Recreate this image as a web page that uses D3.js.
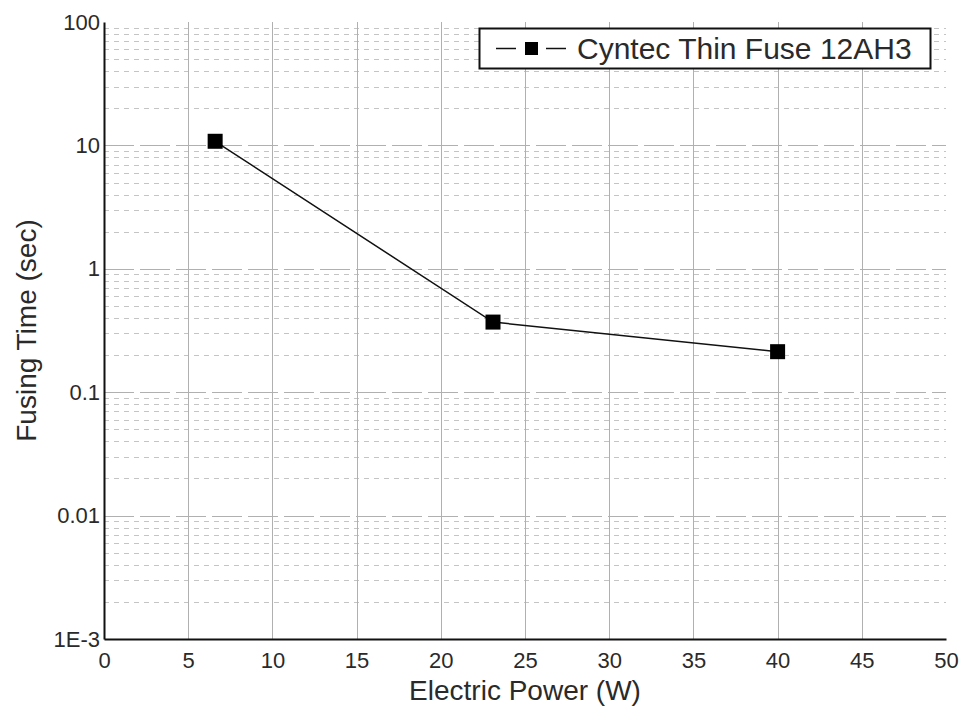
<!DOCTYPE html>
<html>
<head>
<meta charset="utf-8">
<script src="https://cdn.jsdelivr.net/npm/d3@7"></script>
<style>
  body { margin: 0; background: #fff; }
  text { font-family: "Liberation Sans", Arial, sans-serif; fill: #2a2a2a; }
</style>
</head>
<body>
<div id="chart"></div>
<script>
// data
var power = [6.6, 23.1, 40.0];
var fusingTime = [10.8, 0.37, 0.213];
var xTicks = [0, 5, 10, 15, 20, 25, 30, 35, 40, 45, 50];
var yTicks = [0.001, 0.01, 0.1, 1, 10, 100];
var yTickLabels = ["1E-3", "0.01", "0.1", "1", "10", "100"];
var seriesName = "Cyntec Thin Fuse 12AH3";

var w = 961,
    h = 710,
    plotLeft = 104, plotRight = 946, plotTop = 22, plotBottom = 639;

var x = d3.scaleLinear().domain([0, 50]).range([plotLeft, plotRight]);
var y = d3.scaleLog().domain([0.001, 100]).range([plotBottom, plotTop]);

var svg = d3.select("#chart").append("svg")
    .attr("width", w)
    .attr("height", h);

// minor horizontal grid (2..9 in every decade)
var minor = [];
yTicks.slice(0, -1).forEach(function(d) {
    for (var k = 2; k <= 9; k++) minor.push(d * k);
});

svg.append("g").selectAll("line")
    .data(minor)
    .enter().append("line")
    .attr("x1", plotLeft).attr("x2", plotRight)
    .attr("y1", function(d) { return Math.round(y(d)) + 0.5; })
    .attr("y2", function(d) { return Math.round(y(d)) + 0.5; })
    .attr("stroke", "#c4c4c4")
    .attr("stroke-dasharray", "5,5");

// major horizontal grid
svg.append("g").selectAll("line")
    .data(yTicks.slice(1, -1))
    .enter().append("line")
    .attr("x1", plotLeft).attr("x2", plotRight)
    .attr("y1", function(d) { return Math.round(y(d)) + 0.5; })
    .attr("y2", function(d) { return Math.round(y(d)) + 0.5; })
    .attr("stroke", "#b0b0b0")
    .attr("stroke-dasharray", "30,6");

// vertical grid
svg.append("g").selectAll("line")
    .data(xTicks.slice(1, -1))
    .enter().append("line")
    .attr("x1", function(d) { return Math.round(x(d)) + 0.5; })
    .attr("x2", function(d) { return Math.round(x(d)) + 0.5; })
    .attr("y1", plotTop).attr("y2", plotBottom)
    .attr("stroke", "#b0b0b0");

// axes
var xAxis = d3.axisBottom(x).tickValues(xTicks).tickSize(0).tickPadding(13);
var yAxis = d3.axisLeft(y).tickValues(yTicks).tickSize(0).tickPadding(4)
    .tickFormat(function(d, i) { return yTickLabels[i]; });

var gx = svg.append("g")
    .attr("transform", "translate(0," + plotBottom + ")")
    .call(xAxis);
gx.select(".domain").attr("stroke", "#111").attr("stroke-width", 2);
gx.selectAll("text").style("font-size", "22px").attr("fill", "#2a2a2a");

var gy = svg.append("g")
    .attr("transform", "translate(" + plotLeft + ",0)")
    .call(yAxis);
gy.select(".domain").attr("stroke", "#111").attr("stroke-width", 2);
gy.selectAll("text").style("font-size", "22px").attr("fill", "#2a2a2a");

// axis titles
svg.append("text")
    .attr("x", (plotLeft + plotRight) / 2)
    .attr("y", 700)
    .attr("text-anchor", "middle")
    .style("font-size", "28px")
    .text("Electric Power (W)");

svg.append("text")
    .attr("transform", "translate(36," + (plotTop + plotBottom) / 2 + ") rotate(-90)")
    .attr("text-anchor", "middle")
    .style("font-size", "28px")
    .text("Fusing Time (sec)");

// series
var pts = power.map(function(d, i) { return [d, fusingTime[i]]; });

var line = d3.line()
    .x(function(d) { return x(d[0]); })
    .y(function(d) { return y(d[1]); });

svg.append("path")
    .datum(pts)
    .attr("d", line)
    .attr("fill", "none")
    .attr("stroke", "#111")
    .attr("stroke-width", 1.5);

svg.append("g").selectAll("rect")
    .data(pts)
    .enter().append("rect")
    .attr("x", function(d) { return x(d[0]) - 7.5; })
    .attr("y", function(d) { return y(d[1]) - 7.5; })
    .attr("width", 15)
    .attr("height", 15)
    .attr("fill", "#000");

// legend
var lg = svg.append("g");
lg.append("rect")
    .attr("x", 479.5).attr("y", 28.5)
    .attr("width", 451).attr("height", 40)
    .attr("fill", "#fff")
    .attr("stroke", "#111")
    .attr("stroke-width", 2);
[[496, 516], [546, 566]].forEach(function(s) {
    lg.append("line")
        .attr("x1", s[0]).attr("x2", s[1])
        .attr("y1", 48.5).attr("y2", 48.5)
        .attr("stroke", "#111")
        .attr("stroke-width", 1.5);
});
lg.append("rect")
    .attr("x", 525).attr("y", 42)
    .attr("width", 13).attr("height", 13)
    .attr("fill", "#000");
lg.append("text")
    .attr("x", 577).attr("y", 59)
    .style("font-size", "30px")
    .text(seriesName);
</script>
</body>
</html>
